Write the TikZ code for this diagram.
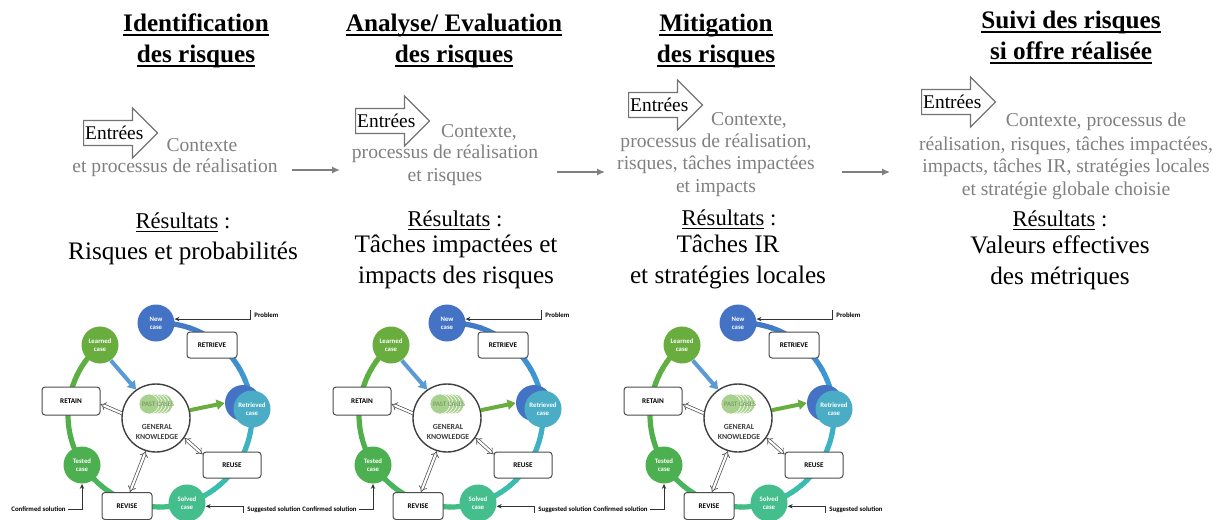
\documentclass[tikz,border=0pt]{standalone}
\usepackage{fontspec}
\setmainfont{Liberation Serif}
\newfontfamily\cbrsans{Carlito}
\usetikzlibrary{arrows.meta,shapes.arrows}

\definecolor{txtgrey}{HTML}{808080}
\definecolor{linkgrey}{HTML}{7F7F7F}
\definecolor{caseblue}{HTML}{4472C4}
\definecolor{caseteal}{HTML}{4BACC6}
\definecolor{casemint}{HTML}{44BE8C}
\definecolor{casegreen}{HTML}{4CAF50}
\definecolor{caselime}{HTML}{6AAD3F}
\definecolor{arrowblue}{HTML}{5B9BD5}
\definecolor{pastgreen}{HTML}{A9D18E}
\definecolor{pasttext}{HTML}{6E8F5C}
\definecolor{gkgrey}{HTML}{404040}
% colour stops along the cycle ring
\definecolor{ringA}{HTML}{4472C4}
\definecolor{ringB}{HTML}{3D93D1}
\definecolor{ringC}{HTML}{3FA8CF}
\definecolor{ringD}{HTML}{3CBDB3}
\definecolor{ringE}{HTML}{3EC197}
\definecolor{ringF}{HTML}{45BA6C}
\definecolor{ringG}{HTML}{4CAF50}
\definecolor{ringH}{HTML}{58B043}
\definecolor{ringI}{HTML}{6AAD3F}

\newcommand{\cbrfont}{\cbrsans\bfseries\fontsize{3.6}{4.3}\selectfont}
% underlines with a chosen rule
\newcommand{\titul}[1]{\leavevmode\setbox0\hbox{#1}\rlap{\rule[-2.3pt]{\wd0}{0.9pt}}\box0\relax}
\newcommand{\resul}[1]{\leavevmode\setbox0\hbox{#1}\rlap{\rule[-1.7pt]{\wd0}{0.45pt}}\box0\relax}

% CBR cycle, #1 = x offset, #2 = name prefix
\newcommand{\cbrCycle}[2]{%
  \begin{scope}[shift={(#1,0)}]
    \coordinate (#2-hub) at (160,415);
    \foreach \s/\e/\ca/\cb in {268/330/ringA/ringB, 330/352/ringB/ringC, 352/410/ringC/ringD,
        410/431/ringD/ringE, 431/470/ringE/ringF, 470/508/ringF/ringG, 508/560/ringG/ringH, 560/590/ringH/ringI}{
      \foreach \i in {0,...,5}{
        \pgfmathsetmacro\ringfrom{\s+(\e-\s)*\i/6}
        \pgfmathsetmacro\ringto{\s+(\e-\s)*(\i+1)/6+0.6}
        \pgfmathtruncatemacro\mixpct{100-(\i+0.5)*100/6}
        \draw[ring, draw=\ca!\mixpct!\cb] (#2-hub) ++(\ringfrom:92) arc[start angle=\ringfrom, end angle=\ringto, radius=92];
      }}
    \node[cbrbox, minimum width=25pt] (#2-retrieve) at (212,345) {RETRIEVE};
    \node[cbrbox, minimum width=29pt] (#2-reuse) at (232,465) {REUSE};
    \node[cbrbox, minimum width=25pt, minimum height=13.5pt] (#2-revise) at (127,506) {REVISE};
    \node[cbrbox, minimum width=29pt, minimum height=14pt] (#2-retain) at (71,401) {RETAIN};
    \node[case, fill=caseblue] (#2-new) at (156,323) {New\\case};
    \node[case, fill=caseblue, minimum size=18pt] (#2-rback) at (243,403) {};
    \node[case, fill=caseteal] (#2-retrieved) at (252,409) {Retrieved\\case};
    \node[case, fill=casemint] (#2-solved) at (187,503) {Solved\\case};
    \node[case, fill=casegreen] (#2-tested) at (82,465) {Tested\\case};
    \node[case, fill=caselime] (#2-learned) at (100,345) {Learned\\case};
    \node[circle, draw=black!75, line width=0.7pt, fill=white, minimum size=34pt] (#2-gk) at (156,418) {};
    \foreach \dx in {14,10.5,7,3.5,0}
      \fill[pastgreen, draw=white, line width=0.3pt] (149+\dx,404) circle (10);
    \node[font=\cbrsans\fontsize{3.4}{4}\selectfont, text=pasttext] (#2-past) at (158,404) {PAST CASES};
    \node[font=\cbrsans\bfseries\fontsize{3.9}{4.9}\selectfont, text=gkgrey, align=center] (#2-gktext) at (157,432) {GENERAL\\KNOWLEDGE};
    \draw[feed, arrowblue] (#2-learned.-55) -- (#2-gk.125);
    \draw[feed, caselime] (#2-gk.13) -- (#2-rback.west);
    \draw[hollow, -{Implies}] (#2-gk.172) -- (#2-retain.-6);
    \draw[hollow, {Implies}-{Implies}] (#2-gk.-35) -- (#2-reuse.160);
    \draw[hollow, {Implies}-{Implies}] (#2-gk.-107) -- (#2-revise.78);
    % inputs and outputs of the cycle
    \coordinate (#2-pk) at (250,310);
    \draw[pin] (#2-pk) |- (#2-new.12);
    \node[note, anchor=west] (#2-problem) at (253,315) {Problem};
    \coordinate (#2-sk) at (243,513);
    \draw[pin] (#2-sk) |- (#2-solved.-10);
    \node[note, anchor=west] (#2-suggested) at (246,510) {Suggested solution};
    \coordinate (#2-ck) at (68,509);
    \draw[pin] (#2-ck) -| (#2-tested.south);
    \node[note, anchor=east] (#2-confirmed) at (67,509) {Confirmed solution};
  \end{scope}}

\begin{document}
\begin{tikzpicture}[x=0.5pt, y=-0.5pt,
    titre/.style={font=\bfseries\fontsize{12.6}{15.5}\selectfont, align=center, inner sep=0pt},
    res/.style={font=\fontsize{12.6}{15.5}\selectfont, align=center, inner sep=0pt},
    reshead/.style={font=\fontsize{11.3}{13}\selectfont, inner sep=0pt},
    ctx/.style={text=txtgrey, font=\fontsize{9.8}{11.25}\selectfont, align=center, inner sep=0pt},
    entree/.style={single arrow, draw=black!55, fill=white, line width=0.6pt, anchor=tail,
      single arrow head extend=6.25pt, inner xsep=0.5pt, inner ysep=2.3pt,
      text height=7pt, text depth=0.3pt, font=\fontsize{9.7}{11}\selectfont},
    link/.style={draw=linkgrey, line width=0.8pt, -{Latex[length=4pt,width=3.6pt]}},
    ring/.style={line width=2.6pt, line cap=butt},
    cbrbox/.style={draw=black!70, fill=white, rounded corners=1.5pt, line width=0.5pt,
      minimum height=13pt, inner sep=0pt, font=\cbrfont},
    case/.style={circle, minimum size=18.5pt, inner sep=0pt, text=white, align=center,
      font=\cbrsans\bfseries\fontsize{3.4}{4.1}\selectfont},
    feed/.style={line width=2pt, -{Triangle[length=4pt,width=5pt]}},
    hollow/.style={draw=black!70, line width=0.35pt, double=white, double distance=1.1pt},
    pin/.style={draw=black!80, line width=0.5pt, -{Stealth[length=2.5pt,width=2.2pt]}},
    note/.style={font=\cbrsans\bfseries\fontsize{3.4}{4.1}\selectfont, inner sep=0.5pt}]
  \path[use as bounding box] (0,0) rectangle (1213,519);

  % column titles
  \node[titre] (t1) at (196,40.5) {\titul{Identification}\\\titul{des risques}};
  \node[titre] (t2) at (454,40.5) {\titul{Analyse/ Evaluation}\\\titul{des risques}};
  \node[titre] (t3) at (716,40.5) {\titul{Mitigation}\\\titul{des risques}};
  \node[titre] (t4) at (1071,37.5) {\titul{Suivi des risques}\\\titul{si offre réalisée}};

  % inputs
  \node[entree] (in1) at (83,133) {Entrées};
  \node[entree] (in2) at (355,121) {Entrées};
  \node[entree] (in3) at (628,105) {Entrées};
  \node[entree] (in4) at (921,102) {Entrées};

  \node[ctx] (ctx1a) at (202,145) {Contexte};
  \node[ctx] (ctx1b) at (175,168) {et processus de réalisation};
  \node[ctx] (ctx2a) at (479,133) {Contexte,};
  \node[ctx] (ctx2b) at (445,165.5) {processus de réalisation\\et risques};
  \node[ctx] (ctx3a) at (749,121) {Contexte,};
  \node[ctx] (ctx3b) at (716,165) {processus de réalisation,\\risques, tâches impactées\\et impacts};
  \node[ctx] (ctx4a) at (1096,122) {Contexte, processus de};
  \node[ctx] (ctx4b) at (1066,168) {réalisation, risques, tâches impactées,\\impacts, tâches IR, stratégies locales\\et stratégie globale choisie};

  % links between the steps
  \coordinate (l1a) at (292,170); \coordinate (l1b) at (340,170);
  \coordinate (l2a) at (557,172); \coordinate (l2b) at (605,172);
  \coordinate (l3a) at (842,172); \coordinate (l3b) at (890,172);
  \draw[link] (l1a) -- (l1b);
  \draw[link] (l2a) -- (l2b);
  \draw[link] (l3a) -- (l3b);

  % results
  \node[reshead] (r1) at (183,222) {\resul{Résultats} :};
  \node[res] (o1) at (183,253) {Risques et probabilités};
  \node[reshead] (r2) at (455,220) {\resul{Résultats} :};
  \node[res] (o2) at (456,262) {Tâches impactées et\\impacts des risques};
  \node[reshead] (r3) at (729,219) {\resul{Résultats} :};
  \node[res] (o3) at (728,262) {Tâches IR\\et stratégies locales};
  \node[reshead] (r4) at (1060,220) {\resul{Résultats} :};
  \node[res] (o4) at (1060,262.5) {Valeurs effectives\\des métriques};

  \cbrCycle{0}{ca}
  \cbrCycle{291}{cb}
  \cbrCycle{582}{cc}
\end{tikzpicture}
\end{document}
